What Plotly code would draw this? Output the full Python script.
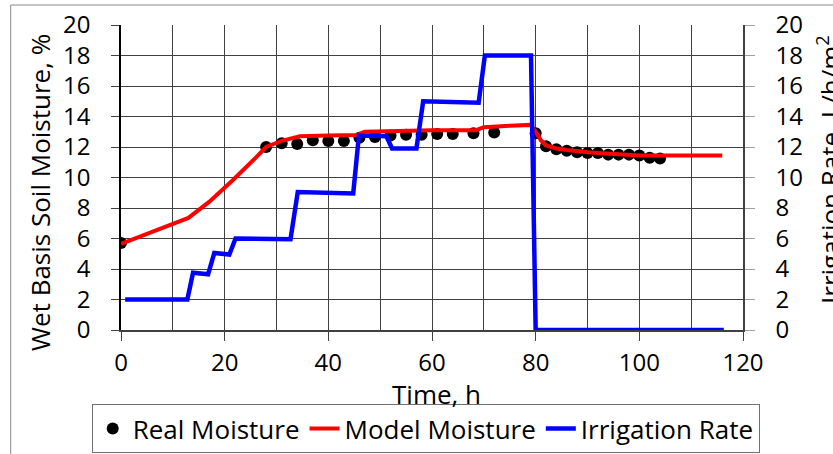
import plotly.graph_objects as go

# Measured soil moisture (wet basis, %)
time_real = [0, 28, 31, 34, 37, 40, 43, 46, 49, 52, 55, 58, 61, 64, 68, 72, 80,
             82, 84, 86, 88, 90, 92, 94, 96, 98, 100, 102, 104]
moisture_real = [5.7, 12.0, 12.25, 12.2, 12.45, 12.4, 12.4, 12.6, 12.65, 12.75, 12.8, 12.8,
                 12.85, 12.85, 12.9, 12.95, 12.9,
                 12.05, 11.85, 11.75, 11.65, 11.6, 11.6, 11.5, 11.5, 11.5, 11.45, 11.3, 11.25]

# Simulated soil moisture (wet basis, %)
time_model = [0, 13, 17, 21.5, 26, 28, 31, 34.5, 40, 45.5, 47, 52, 60, 68.5, 70, 75, 79,
              80, 81, 82, 84, 86, 88, 90, 92, 94, 96, 98, 100, 102, 104, 110, 116]
moisture_model = [5.65, 7.35, 8.4, 9.8, 11.3, 12.0, 12.4, 12.7, 12.75, 12.78, 13.0, 13.05,
                  13.1, 13.1, 13.3, 13.4, 13.45,
                  13.0, 12.45, 12.1, 11.9, 11.8, 11.7, 11.65, 11.6, 11.55, 11.5, 11.5,
                  11.45, 11.45, 11.45, 11.45, 11.45]

# Irrigation schedule (L/h/m2)
time_irr = [0.8, 12.8, 13.9, 16.8, 18.0, 20.9, 22.1, 32.7, 34.1, 44.8, 45.9, 51.2, 52.3,
            57.0, 58.3, 69.0, 70.2, 79.1, 80.0, 116.3]
rate_irr = [2, 2, 3.75, 3.65, 5.05, 4.95, 6.0, 5.95, 9.05, 8.95, 12.75, 12.7, 11.9,
            11.9, 15.0, 14.9, 18.0, 18.0, 0, 0]

x_ticks = [0, 20, 40, 60, 80, 100, 120]
y_ticks = list(range(0, 21, 2))

FONT = "Open Sans"
FS_TICK = 24
FS = 26

# plot-area geometry in pixels (for placing titles and frame)
L, R, T, B = 121, 743, 25, 330
W, H = 833, 454


def px(x):
    return (x - L) / (R - L)


def py(y):
    return (B - y) / (B - T)


fig = go.Figure()
fig.add_trace(go.Scatter(x=time_real, y=moisture_real, mode="markers", name="Real Moisture",
                         marker=dict(color="black", size=12)))
fig.add_trace(go.Scatter(x=time_model, y=moisture_model, mode="lines", name="Model Moisture",
                         line=dict(color="#ff0000", width=4)))
fig.add_trace(go.Scatter(x=time_irr, y=rate_irr, mode="lines", name="Irrigation Rate",
                         line=dict(color="#0000ff", width=4.5), yaxis="y2"))

grid = "#404040"
fig.update_layout(
    width=W, height=H,
    margin=dict(l=L, r=W - R, t=T, b=H - B, autoexpand=False),
    paper_bgcolor="white", plot_bgcolor="white",
    font=dict(family=FONT, size=FS_TICK, color="black"),
    showlegend=True,
    legend=dict(orientation="h", x=px(91.7), xanchor="left", y=py(404), yanchor="top",
                bordercolor="#707070", borderwidth=1, itemwidth=30,
                font=dict(family=FONT, size=FS, color="black"), tracegroupgap=0),
    xaxis=dict(range=[0, 120], tickvals=x_ticks, ticks="outside", ticklen=9, tickcolor=grid,
               showline=True, linecolor=grid, linewidth=2, showgrid=True, gridcolor=grid,
               gridwidth=1.2, minor=dict(dtick=10, showgrid=True, gridcolor=grid, gridwidth=1.2),
               zeroline=False, ticklabelstandoff=1, automargin=False),
    yaxis=dict(range=[0, 20], tickvals=y_ticks, ticks="outside", ticklen=8, tickcolor=grid,
               showline=True, linecolor="black", linewidth=1.5, mirror=False,
               showgrid=True, gridcolor=grid, gridwidth=1.2, zeroline=False,
               ticklabelstandoff=16, automargin=False),
    yaxis2=dict(range=[0, 20], tickvals=y_ticks, overlaying="y", side="right", ticks="outside",
                ticklen=10, tickcolor="#a0a0a0", showline=True, linecolor=grid, linewidth=1.5,
                showgrid=False, zeroline=False, ticklabelstandoff=16, automargin=False),
)

# chart frame
fig.add_shape(type="rect", xref="paper", yref="paper", x0=px(10.7), x1=px(850),
              y0=py(470), y1=py(5), line=dict(color="#8a8a8a", width=1), layer="below")

# axis titles
fig.add_annotation(text="Wet Basis Soil Moisture, %", xref="paper", yref="paper",
                   x=px(40), y=py(193), textangle=-90, showarrow=False,
                   xanchor="center", yanchor="middle", font=dict(family=FONT, size=FS))
fig.add_annotation(text="Irrigation Rate, L/h/m<sup>2</sup>", xref="paper", yref="paper",
                   x=px(829), y=py(170), textangle=-90, showarrow=False,
                   xanchor="center", yanchor="middle", font=dict(family=FONT, size=FS))
fig.add_annotation(text="Time, h", xref="paper", yref="paper",
                   x=px(436), y=py(394), showarrow=False,
                   xanchor="center", yanchor="middle", font=dict(family=FONT, size=FS))

fig.write_html("out.html")
